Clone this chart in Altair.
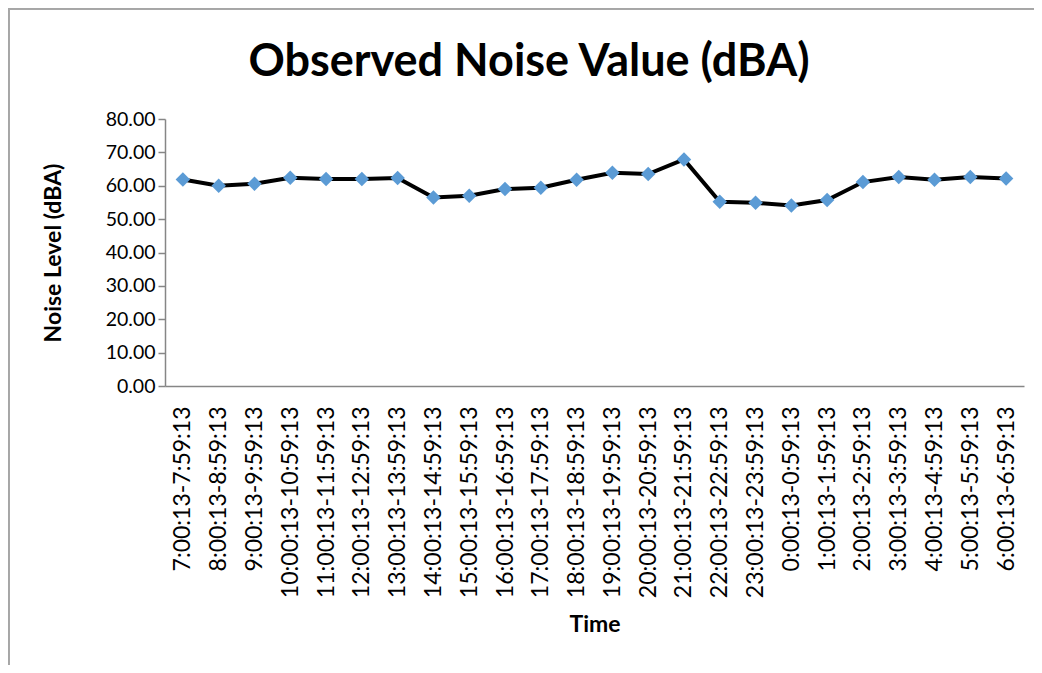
import altair as alt
import pandas as pd

time_labels = [
    "7:00:13-7:59:13", "8:00:13-8:59:13", "9:00:13-9:59:13",
    "10:00:13-10:59:13", "11:00:13-11:59:13", "12:00:13-12:59:13",
    "13:00:13-13:59:13", "14:00:13-14:59:13", "15:00:13-15:59:13",
    "16:00:13-16:59:13", "17:00:13-17:59:13", "18:00:13-18:59:13",
    "19:00:13-19:59:13", "20:00:13-20:59:13", "21:00:13-21:59:13",
    "22:00:13-22:59:13", "23:00:13-23:59:13", "0:00:13-0:59:13",
    "1:00:13-1:59:13", "2:00:13-2:59:13", "3:00:13-3:59:13",
    "4:00:13-4:59:13", "5:00:13-5:59:13", "6:00:13-6:59:13",
]
noise_values = [
    61.9, 60.0, 60.6, 62.4, 62.0, 62.0, 62.3, 56.5, 57.0, 59.0, 59.4, 61.8,
    63.9, 63.5, 67.9, 55.2, 54.9, 54.1, 55.7, 61.1, 62.6, 61.8, 62.6, 62.2,
]
y_ticks = [0, 10, 20, 30, 40, 50, 60, 70, 80]
chart_title = "Observed Noise Value (dBA)"

df = pd.DataFrame({"Time": time_labels, "Noise": noise_values})

FONT = "Lato"
GREY = "#868686"

x_enc = alt.X(
    "Time:N", sort=time_labels,
    scale=alt.Scale(type="point", padding=0.5),
    axis=alt.Axis(
        title="Time", labelAngle=-90, labelFont=FONT, labelFontSize=23,
        labelColor="#000000", labelPadding=20, labelLimit=0, ticks=False,
        domainColor=GREY, domainWidth=1.5,
        titleFont=FONT, titleFontSize=23, titleFontWeight="bold",
        titleColor="#000000", titlePadding=27, grid=False,
    ),
)
y_enc = alt.Y(
    "Noise:Q",
    scale=alt.Scale(domain=[0, 80], nice=False, zero=True),
    axis=alt.Axis(
        title="Noise Level (dBA)", values=y_ticks, format=".2f",
        labelFont=FONT, labelFontSize=19.5, labelColor="#000000", labelPadding=3,
        tickColor=GREY, tickSize=7, tickWidth=1.5, domainColor=GREY,
        domainWidth=1.5, grid=False,
        titleFont=FONT, titleFontSize=23, titleFontWeight="bold",
        titleColor="#000000", titlePadding=40,
    ),
)

line = alt.Chart(df).mark_line(color="#000000", strokeWidth=4).encode(x=x_enc, y=y_enc)
pts = alt.Chart(df).mark_point(
    shape="diamond", filled=True, size=210, color="#5B9BD5", opacity=1
).encode(x=x_enc, y=y_enc)

title_mark = alt.Chart(pd.DataFrame({"t": [chart_title]})).mark_text(
    font=FONT, fontSize=45, fontWeight="bold", color="#000000",
    align="center", baseline="alphabetic",
).encode(x=alt.value(364), y=alt.value(-43), text="t:N")

border_left = alt.Chart(df).mark_rule(color="#a6a6a6", strokeWidth=1.5).encode(
    x=alt.value(-156.5), y=alt.value(-111), y2=alt.value(560)
)
border_top = alt.Chart(df).mark_rule(color="#a6a6a6", strokeWidth=1.5).encode(
    x=alt.value(-157), x2=alt.value(870), y=alt.value(-110.5)
)

chart = alt.layer(border_left, border_top, line, pts, title_mark).properties(
    width=859, height=267,
    autosize=alt.AutoSizeParams(type="none"),
    padding={"left": 157, "top": 111, "right": 10, "bottom": 279},
).configure_view(stroke=None)

chart.save("out.html", embed_options={"renderer": "svg", "actions": False})
